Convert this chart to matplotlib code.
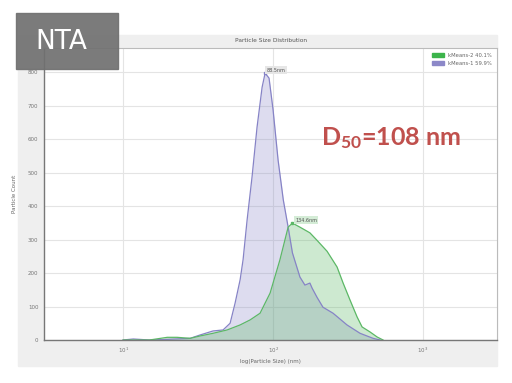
import matplotlib
matplotlib.use('Agg')
import matplotlib.pyplot as plt
from matplotlib.patches import Rectangle

# kMeans-1 (purple) distribution
size_1 = [10, 11.7, 15, 20, 28, 32.6, 39.8, 46.4, 51.7, 55.8, 60.3, 63.1, 67.1, 72.4, 78.2,
          84.5, 88.5, 94, 100, 108, 117, 126, 134.6, 151, 163, 176, 182, 196, 215, 251,
          267, 311, 380, 464, 517]
count_1 = [0, 3, 0, 2, 5, 15, 27, 30, 50, 110, 180, 240, 358, 487, 636,
           755, 797, 782, 687, 537, 418, 337, 260, 188, 164, 170, 155, 128, 98, 80,
           70, 45, 20, 5, 0]

# kMeans-2 (green) distribution
size_2 = [10, 15, 19.7, 22.9, 28, 32.6, 39.8, 49.4, 60.3, 70.3, 81.9, 95.5, 111, 126, 134.6,
          151, 176, 196, 229, 267, 293, 326, 363, 392, 443, 494, 541]
count_2 = [0, 0, 8, 8, 5, 12, 20, 30, 45, 60, 80, 140, 239, 337, 349,
           337, 320, 298, 265, 218, 170, 119, 69, 39, 24, 9, 0]

legend_labels = ['kMeans-2 40.1%', 'kMeans-1 59.9%']
peak_labels = ['88.5nm', '134.6nm']

plt.rcParams['mathtext.fontset'] = 'custom'
plt.rcParams['mathtext.rm'] = 'Lato:bold'
plt.rcParams['mathtext.it'] = 'Lato:bold'

W, H = 512, 383
fig = plt.figure(figsize=(W / 100, H / 100), dpi=100)

# grey panel behind the chart
fig.patches.append(Rectangle((18 / W, (H - 366) / H), (497 - 18) / W, (366 - 35) / H,
                             transform=fig.transFigure, color='#efefef', zorder=0))

ax = fig.add_axes([44 / W, (H - 340) / H, (497 - 44) / W, (340 - 48) / H])
ax.set_zorder(2)
ax.set_facecolor('white')

purple = '#8683c6'
green = '#5cb866'
ax.fill_between(size_1, count_1, color=purple, alpha=0.28, lw=0)
ax.plot(size_1, count_1, color=purple, lw=0.9)
ax.fill_between(size_2, count_2, color=green, alpha=0.3, lw=0)
ax.plot(size_2, count_2, color=green, lw=0.9)

# peak markers and labels
ax.plot([88.5], [797], 's', ms=2, color=purple)
ax.plot([134.6], [349], 's', ms=2, color=green)
ax.text(91, 806, peak_labels[0], fontsize=3.5, color='#555555', va='center',
        bbox=dict(boxstyle='square,pad=0.3', fc='#e6e6e6', ec='none'))
ax.text(140, 357, peak_labels[1], fontsize=3.5, color='#555555', va='center',
        bbox=dict(boxstyle='square,pad=0.3', fc='#d4ecd6', ec='none'))

ax.set_xscale('log')
ax.set_xlim(2.97, 3110)
ax.set_ylim(0, 872)
ax.set_xticks([10, 100, 1000])
ax.set_yticks(range(0, 900, 100))
ax.minorticks_off()
ax.tick_params(labelsize=4, colors='#777777', length=0, pad=4)
ax.grid(True, color='#e4e4e4', lw=0.8)
ax.set_axisbelow(True)
for s in ['top', 'right']:
    ax.spines[s].set_color('#bbbbbb')
    ax.spines[s].set_linewidth(0.8)
for s in ['left', 'bottom']:
    ax.spines[s].set_color('#777777')
    ax.spines[s].set_linewidth(1.0)

ax.set_xlabel('log(Particle Size) (nm)', fontsize=4, color='#666666', labelpad=3)
ax.set_ylabel('Particle Count', fontsize=4, color='#666666', labelpad=8)
fig.text(271 / W, (H - 41) / H, 'Particle Size Distribution', fontsize=4.2,
         color='#555555', ha='center', va='center')

handles = [Rectangle((0, 0), 1, 1, color='#3cb44b'), Rectangle((0, 0), 1, 1, color='#8c88c8')]
ax.legend(handles, legend_labels, loc='upper right', fontsize=3.8, frameon=False,
          handlelength=2.2, handleheight=0.8, labelcolor='#666666', borderaxespad=0.6)

# D50 annotation
fig.text(321 / W, (H - 138) / H, 'D$_{50}$=108 nm', fontsize=18, color='#c0504d',
         fontweight='bold', family='Lato', va='center', ha='left', zorder=6)

# NTA badge
fig.patches.append(Rectangle((16 / W, (H - 69) / H), (118 - 16) / W, (69 - 13) / H,
                             transform=fig.transFigure, color='#707070', alpha=0.92, zorder=5))
fig.text(61 / W, (H - 42) / H, 'NTA', fontsize=19, color='white', ha='center',
         va='center', zorder=6)

fig.savefig('out.png', dpi=100)
